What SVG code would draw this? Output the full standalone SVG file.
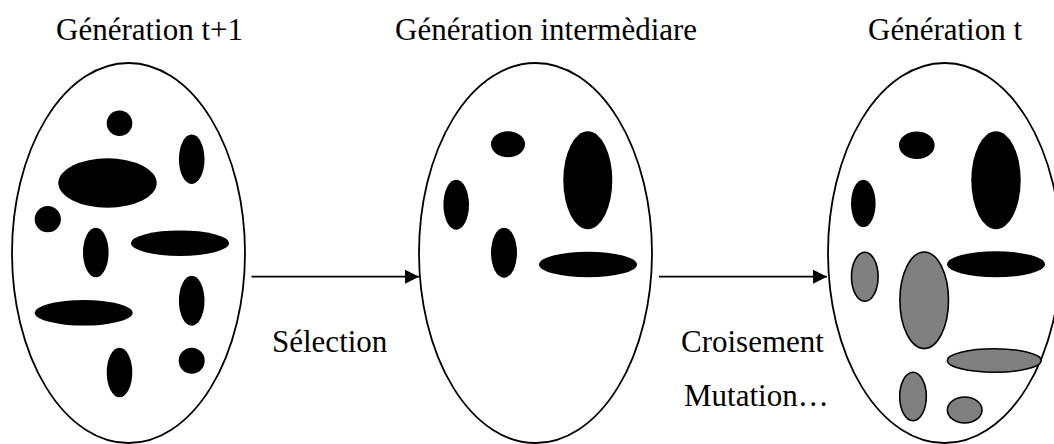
<svg xmlns="http://www.w3.org/2000/svg" width="1054" height="444" viewBox="0 0 1054 444">
  <style>
    .pop { fill: #fff; stroke: #000; stroke-width: 1.8; }
    .ind { fill: #000; }
    .new { fill: #808080; stroke: #000; stroke-width: 1.6; }
    .lbl { font-family: "Liberation Serif", "Times New Roman", serif; font-size: 31px; fill: #000; }
    .link { stroke: #000; stroke-width: 1.8; fill: none; }
  </style>
  <defs>
    <marker id="arrow" viewBox="0 0 10 10" refX="10" refY="5" markerWidth="8" markerHeight="8" markerUnits="userSpaceOnUse" orient="auto">
      <path d="M0,0 L10,5 L0,10 Z" fill="#000"/>
    </marker>
    <marker id="head" viewBox="0 0 14 14" refX="14" refY="7" markerWidth="14" markerHeight="14" markerUnits="userSpaceOnUse" orient="auto">
      <path d="M0,0 L14,7 L0,14 Z" fill="#000"/>
    </marker>
  </defs>
  <rect width="1054" height="444" fill="#fff"/>

  <!-- population at generation t+1 -->
  <g id="gen-t1">
    <ellipse class="pop" cx="128.5" cy="253" rx="116.5" ry="190"/>
    <circle class="ind" cx="119.5" cy="123.3" r="12.8"/>
    <ellipse class="ind" cx="191.7" cy="159.2" rx="12.8" ry="24.8"/>
    <ellipse class="ind" cx="107.5" cy="183" rx="49.2" ry="24.7"/>
    <circle class="ind" cx="47.8" cy="219.2" r="13.1"/>
    <ellipse class="ind" cx="95.8" cy="252.5" rx="12.8" ry="24.8"/>
    <ellipse class="ind" cx="180" cy="243.2" rx="49" ry="12.8"/>
    <ellipse class="ind" cx="191.7" cy="300.7" rx="12.8" ry="25"/>
    <ellipse class="ind" cx="83.7" cy="312.8" rx="49" ry="12.8"/>
    <ellipse class="ind" cx="119.5" cy="372.5" rx="12.8" ry="24.8"/>
    <circle class="ind" cx="191.7" cy="360.8" r="13"/>
  </g>

  <!-- intermediate population -->
  <g id="gen-mid">
    <ellipse class="pop" cx="535.5" cy="253" rx="116.5" ry="190"/>
    <ellipse class="ind" cx="508" cy="144.3" rx="17" ry="13"/>
    <ellipse class="ind" cx="587.8" cy="180.3" rx="24.5" ry="49"/>
    <ellipse class="ind" cx="456.2" cy="204.7" rx="12.8" ry="25"/>
    <ellipse class="ind" cx="504" cy="252.7" rx="13" ry="25"/>
    <ellipse class="ind" cx="588" cy="264.5" rx="49" ry="12.8"/>
  </g>

  <!-- population at generation t -->
  <g id="gen-t">
    <ellipse class="pop" cx="944.5" cy="253" rx="116.5" ry="190"/>
    <ellipse class="ind" cx="916.8" cy="145.2" rx="17.8" ry="13.8"/>
    <ellipse class="ind" cx="996" cy="180.3" rx="24.7" ry="49"/>
    <ellipse class="ind" cx="863.3" cy="203.5" rx="12.3" ry="23.8"/>
    <ellipse class="ind" cx="996" cy="264.3" rx="49" ry="13"/>
    <ellipse class="new" cx="864.8" cy="276.7" rx="13.3" ry="24.5"/>
    <ellipse class="new" cx="924.2" cy="300.3" rx="24.3" ry="48.3"/>
    <ellipse class="new" cx="994.3" cy="360.5" rx="47" ry="11.8"/>
    <ellipse class="new" cx="913" cy="396.5" rx="13.3" ry="24.2"/>
    <ellipse class="new" cx="964.7" cy="410" rx="17.3" ry="13"/>
  </g>

  <!-- titles -->
  <g id="titles">
    <text class="lbl" x="56" y="40">Génération t+1</text>
    <text class="lbl" x="395" y="40">Génération intermèdiare</text>
    <text class="lbl" x="868" y="40">Génération t</text>
  </g>

  <!-- transitions -->
  <g id="connectors">
    <line class="link" x1="251.5" y1="276.7" x2="419" y2="276.7" marker-end="url(#head)"/>
    <line class="link" x1="659" y1="276.7" x2="827" y2="276.7" marker-end="url(#head)"/>
  </g>

  <g id="edge-labels">
    <text class="lbl" x="272" y="352">Sélection</text>
    <text class="lbl" x="681" y="352">Croisement</text>
    <text class="lbl" x="684" y="406">Mutation…</text>
  </g>
</svg>
